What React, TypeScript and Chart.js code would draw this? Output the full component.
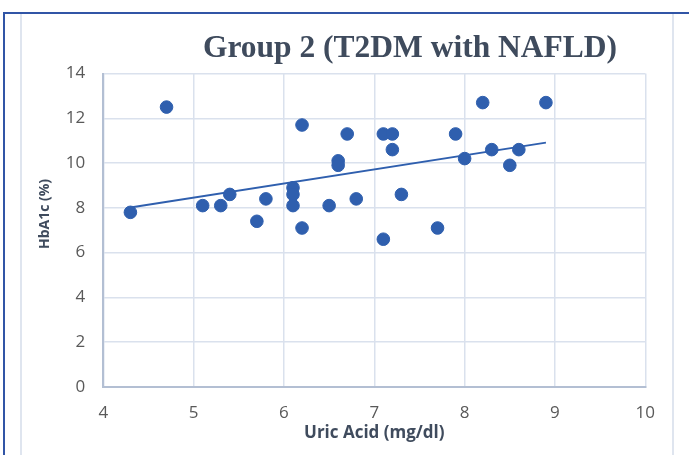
import React, { useEffect, useRef } from "react";
import { Chart, registerables } from "chart.js";

Chart.register(...registerables);

const TITLE = "Group 2 (T2DM with NAFLD)";
const X_TITLE = "Uric Acid (mg/dl)";
const Y_TITLE = "HbA1c (%)";

const uricAcid = [
  4.3, 4.7, 5.1, 5.3, 5.4, 5.7, 5.8, 6.1, 6.1, 6.1, 6.2, 6.2, 6.5, 6.6, 6.6,
  6.7, 6.8, 7.1, 7.1, 7.2, 7.2, 7.3, 7.7, 7.9, 8.0, 8.2, 8.3, 8.5, 8.6, 8.9,
];
const hba1c = [
  7.8, 12.5, 8.1, 8.1, 8.6, 7.4, 8.4, 8.9, 8.6, 8.1, 11.7, 7.1, 8.1, 10.1, 9.9,
  11.3, 8.4, 11.3, 6.6, 11.3, 10.6, 8.6, 7.1, 11.3, 10.2, 12.7, 10.6, 9.9, 10.6, 12.7,
];

const X_MIN = 4;
const X_MAX = 10;
const X_STEP = 1;
const Y_MIN = 0;
const Y_MAX = 14;
const Y_STEP = 2;

const POINT_COLOR = "#2f5fae";
const TEXT_COLOR = "#595959";
const TITLE_COLOR = "#3f4b5d";
const GRID_COLOR = "#dae1ed";
const AXIS_COLOR = "#b3bfd3";

function linearFit(xs: number[], ys: number[]) {
  const n = xs.length;
  const mx = xs.reduce((a, b) => a + b, 0) / n;
  const my = ys.reduce((a, b) => a + b, 0) / n;
  let sxy = 0;
  let sxx = 0;
  for (let i = 0; i < n; i++) {
    sxy += (xs[i] - mx) * (ys[i] - my);
    sxx += (xs[i] - mx) * (xs[i] - mx);
  }
  const slope = sxy / sxx;
  return { slope, intercept: my - slope * mx };
}

const textPlugin = {
  id: "customTexts",
  afterDraw(chart: any) {
    const { ctx, chartArea } = chart;
    ctx.save();
    ctx.fillStyle = TITLE_COLOR;
    ctx.textAlign = "center";
    ctx.textBaseline = "alphabetic";
    ctx.font = 'bold 31.5px "Liberation Serif"';
    ctx.fillText(TITLE, 410, 57);

    ctx.textBaseline = "middle";
    ctx.font = 'bold 17px "Open Sans"';
    ctx.fillText(X_TITLE, (chartArea.left + chartArea.right) / 2, 433);

    ctx.translate(45.5, 214);
    ctx.rotate(-Math.PI / 2);
    ctx.font = 'bold 14px "Open Sans"';
    ctx.fillText(Y_TITLE, 0, 0);
    ctx.restore();
  },
};

export default function App() {
  const canvasRef = useRef<HTMLCanvasElement | null>(null);

  useEffect(() => {
    if (!canvasRef.current) return;
    const fit = linearFit(uricAcid, hba1c);
    const xLo = Math.min(...uricAcid);
    const xHi = Math.max(...uricAcid);
    const trend = [
      { x: xLo, y: fit.intercept + fit.slope * xLo },
      { x: xHi, y: fit.intercept + fit.slope * xHi },
    ];
    const points = uricAcid.map((x, i) => ({ x, y: hba1c[i] }));

    const chart = new Chart(canvasRef.current, {
      type: "scatter",
      data: {
        datasets: [
          {
            type: "line",
            label: "Trend",
            data: trend,
            borderColor: POINT_COLOR,
            borderWidth: 2,
            pointRadius: 0,
            fill: false,
            order: 2,
          } as any,
          {
            label: "HbA1c",
            data: points,
            backgroundColor: POINT_COLOR,
            borderColor: POINT_COLOR,
            borderWidth: 1,
            pointRadius: 6.3,
            order: 1,
          },
        ],
      },
      options: {
        responsive: false,
        animation: false,
        layout: { padding: { left: 0, top: 73.5, right: 43.7, bottom: 0 } },
        plugins: {
          legend: { display: false },
          title: { display: false },
          tooltip: { enabled: false },
        },
        scales: {
          x: {
            type: "linear",
            min: X_MIN,
            max: X_MAX,
            ticks: {
              stepSize: X_STEP,
              color: TEXT_COLOR,
              font: { family: "Open Sans", size: 17 },
              padding: 16,
            },
            grid: { color: GRID_COLOR, lineWidth: 1.5, drawTicks: false },
            border: { color: AXIS_COLOR, width: 2 },
            afterFit: (scale: any) => {
              scale.height = 68;
            },
          },
          y: {
            type: "linear",
            min: Y_MIN,
            max: Y_MAX,
            ticks: {
              stepSize: Y_STEP,
              color: TEXT_COLOR,
              font: { family: "Open Sans", size: 17 },
              padding: 18,
            },
            grid: { color: GRID_COLOR, lineWidth: 1.5, drawTicks: false },
            border: { color: AXIS_COLOR, width: 2 },
            afterFit: (scale: any) => {
              scale.width = 103.3;
            },
          },
        },
      },
      plugins: [textPlugin],
    });
    return () => chart.destroy();
  }, []);

  return (
    <div
      style={{
        position: "absolute",
        left: 0,
        top: 0,
        width: 689,
        height: 455,
        background: "#ffffff",
        overflow: "hidden",
      }}
    >
      <canvas
        ref={canvasRef}
        width={689}
        height={455}
        style={{ position: "absolute", left: 0, top: 0, width: 689, height: 455 }}
      />
      <div style={{ position: "absolute", left: 3, top: 12, width: 686, height: 2, background: "#3155a6" }} />
      <div style={{ position: "absolute", left: 3, top: 12, width: 2, height: 443, background: "#3155a6" }} />
      <div style={{ position: "absolute", left: 20, top: 14, width: 2, height: 441, background: "#dfe5ef" }} />
      <div style={{ position: "absolute", left: 672, top: 14, width: 2, height: 441, background: "#dfe5ef" }} />
    </div>
  );
}
